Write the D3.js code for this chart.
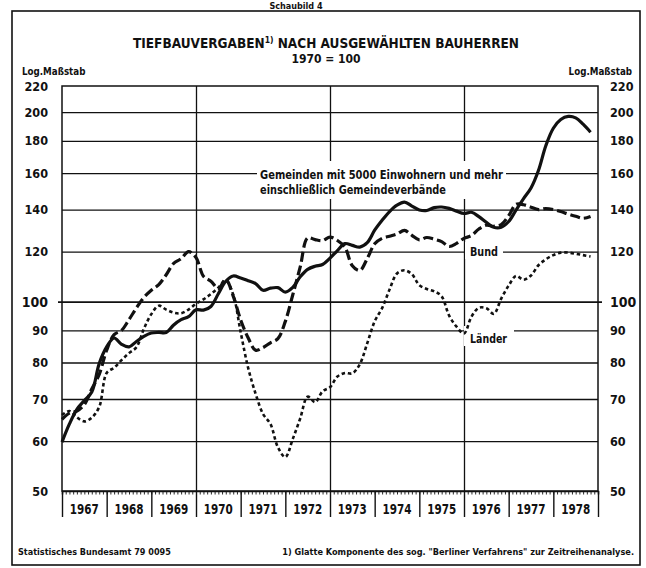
<!DOCTYPE html>
<html><head><meta charset="utf-8">
<script src="https://cdn.jsdelivr.net/npm/d3@7"></script>
<style>
body{margin:0;background:#fff;}
svg text{font-family:"DejaVu Sans Condensed","Liberation Sans Narrow","Arial Narrow",sans-serif;font-stretch:condensed;font-weight:bold;fill:#111;}
</style></head><body>
<svg id="c" width="646" height="568"></svg>
<script>
// ---- data (index values, 1970 = 100), two-month steps from Jan 1967 ----
const startYear = 1967;
const stepYears = 1 / 6;
const years = [1967,1968,1969,1970,1971,1972,1973,1974,1975,1976,1977,1978];
const gemeinden = [59.8,63.9,67.4,69.6,71.8,79.7,84.7,87.5,85.5,84.7,
  86.4,88,89.1,89.3,89.3,91.8,93.6,94.6,97,96.9,
  98.2,102.9,107.7,109.8,109,107.9,106.8,104.2,105,105.2,
  103.5,105.3,109.5,112.5,113.8,114.5,117.2,120.5,123.6,122.8,
  122,124,129.8,134.6,139,142.3,143.9,141.8,139.8,139.5,
  141,141.3,140.6,139.2,138,138.6,136.4,133.6,131.2,131.2,
  134,139.8,145.7,151.5,161.5,177,188.5,194.6,196.8,195.8,
  191.3,185.8];
const bund = [65,66.5,67,68.6,72.6,76.6,83.7,88.6,90,93.6,
  97.7,101.5,104.2,106.4,110.3,115,117,120,117.5,109.7,
  107.7,104.9,108.4,102,93.5,87.6,83.7,84.5,86,87.3,
  93,102.5,113.5,126.2,125.4,125,126.6,125,122,114,
  112,117,123.5,126,127,128,129.7,127.4,125.3,126.4,
  125.6,124.5,122.3,123.7,126,127.3,130.4,132.2,131.7,132.5,
  136.9,142.7,142.5,141.2,140,140.5,140,139,137.7,136.6,
  135.6,136.5];
const laender = [66,67,65.5,64.5,65.4,68,77,78.5,80.7,82.8,
  84.6,90.5,95.5,98.5,97.1,96,95.8,97.1,99.2,100.8,
  102.8,105.2,108,102.5,89.4,78.5,71.4,66.3,63.9,58.7,
  56.6,60.5,65.2,70.6,69.2,72,73.1,76,77,76.9,
  79.5,85.8,93,97.6,104.5,110.8,112.1,110.5,106.2,104.7,
  103.8,101.9,95,91.2,89,94.6,97.7,97.6,95.6,101.1,
  106,109.8,108.3,110,114.2,116.7,118.5,119.6,119.6,119.1,
  118.5,117.9];
const yTickLabels = [220,200,180,160,140,120,100,90,80,70,60,50];
const yGridValues = [200,180,160,140,120,100,90,80,70,60];
const xGridYears = [1970,1973,1976];

// ---- layout ----
const L = 62, R = 598, T = 86, B = 491;
const svg = d3.select("#c");
const x = d3.scaleLinear().domain([1967, 1979]).range([L, R]);
const y = d3.scaleLog().domain([50, 220]).range([B, T]);

// outer frame
svg.append("rect").attr("x",12).attr("y",11).attr("width",628).attr("height",554)
  .attr("fill","none").attr("stroke","#111").attr("stroke-width",1.6);

// small heading at very top (cut in the original print)
svg.append("text").attr("x",296).attr("y",8.5).attr("text-anchor","middle")
  .attr("font-size",9).text("Schaubild 4");

// title
const t1 = svg.append("text").attr("x",326).attr("y",48).attr("text-anchor","middle").attr("font-size",13.5);
t1.append("tspan").text("TIEFBAUVERGABEN");
t1.append("tspan").attr("font-size",8.5).attr("dy",-5).text("1)");
t1.append("tspan").attr("dy",5).text(" NACH AUSGEWÄHLTEN BAUHERREN");
svg.append("text").attr("x",326).attr("y",63).attr("text-anchor","middle").attr("font-size",12).text("1970 = 100");

svg.append("text").attr("x",22).attr("y",75).attr("font-size",9.7).text("Log.Maßstab");
svg.append("text").attr("x",632).attr("y",75).attr("text-anchor","end").attr("font-size",9.7).text("Log.Maßstab");

// horizontal grid
const hg = svg.append("g").attr("transform",`translate(${L},0)`)
  .call(d3.axisLeft(y).tickValues(yGridValues).tickSize(-(R-L)).tickFormat(""));
hg.select(".domain").remove();
hg.selectAll("line").attr("stroke","#111").attr("stroke-width",1.3);
hg.selectAll(".tick").filter(d => d === 100).select("line")
  .attr("x1",-4).attr("x2",R-L+4).attr("stroke-width",1.8);

// vertical grid
const vg = svg.append("g").attr("transform",`translate(0,${B})`)
  .call(d3.axisBottom(x).tickValues(xGridYears).tickSize(-(B-T)).tickFormat(""));
vg.select(".domain").remove();
vg.selectAll("line").attr("stroke","#111").attr("stroke-width",1.3);

// plot frame
svg.append("rect").attr("x",L).attr("y",T).attr("width",R-L).attr("height",B-T)
  .attr("fill","none").attr("stroke","#111").attr("stroke-width",1.5);

// y labels
const yl = svg.append("g").attr("transform",`translate(${L},0)`)
  .call(d3.axisLeft(y).tickValues(yTickLabels).tickSize(0).tickPadding(14).tickFormat(d3.format("d")));
yl.select(".domain").remove();
const yr = svg.append("g").attr("transform",`translate(${R},0)`)
  .call(d3.axisRight(y).tickValues(yTickLabels).tickSize(0).tickPadding(12).tickFormat(d3.format("d")));
yr.select(".domain").remove();
[yl, yr].forEach(g => {
  g.selectAll("text").attr("font-size", d => d === 100 ? 14 : 12.5)
    .attr("font-family",null).attr("fill","#111");
});

// x axis: month ticks, year separators, year labels
const months = d3.range(0, 144).map(m => startYear + m / 12);
const xm = svg.append("g").attr("transform",`translate(0,${B})`)
  .call(d3.axisBottom(x).tickValues(months).tickSize(3.5).tickFormat(""));
xm.select(".domain").attr("stroke","#111").attr("stroke-width",1.5);
xm.selectAll("line").attr("stroke","#111").attr("stroke-width",0.9);
const xs = svg.append("g").attr("transform",`translate(0,${B})`)
  .call(d3.axisBottom(x).tickValues(years.concat([1979])).tickSize(26).tickFormat(""));
xs.select(".domain").remove();
xs.selectAll("line").attr("stroke","#111").attr("stroke-width",1.4);
svg.append("g").selectAll("text").data(years).join("text")
  .attr("x", d => x(d + 0.5)).attr("y", 514).attr("text-anchor","middle")
  .attr("font-size",13.5).attr("textLength",29).attr("lengthAdjust","spacingAndGlyphs").text(d => d);

// label backgrounds (interrupt gridlines)
const bg = svg.append("g").attr("fill","#fff");
bg.append("rect").attr("x",257).attr("y",161).attr("width",249).attr("height",38);
bg.append("rect").attr("x",465).attr("y",242).attr("width",38).attr("height",17);
bg.append("rect").attr("x",464).attr("y",326).attr("width",50).attr("height",20);

// annotations
function label(txt, xx, yy, len) {
  svg.append("text").attr("x",xx).attr("y",yy).attr("font-size",12.5)
    .attr("textLength",len).attr("lengthAdjust","spacingAndGlyphs").text(txt);
}
label("Gemeinden mit 5000 Einwohnern und mehr", 260, 179, 243);
label("einschließlich Gemeindeverbände", 260, 194, 186);
label("Bund", 470, 256, 28);
label("Länder", 470, 343, 37);

// series
const line = d3.line()
  .x((d, i) => x(startYear + i * stepYears))
  .y(d => y(d))
  .curve(d3.curveCatmullRom.alpha(0.5));
svg.append("path").datum(laender).attr("d", line).attr("fill","none")
  .attr("stroke","#111").attr("stroke-width",2.6).attr("stroke-dasharray","3.5,2.8");
svg.append("path").datum(bund).attr("d", line).attr("fill","none")
  .attr("stroke","#111").attr("stroke-width",3.2).attr("stroke-dasharray","10,4");
svg.append("path").datum(gemeinden).attr("d", line).attr("fill","none")
  .attr("stroke","#111").attr("stroke-width",3.2).attr("stroke-linejoin","round");

// footer
svg.append("text").attr("x",18).attr("y",555).attr("font-size",9)
  .text("Statistisches Bundesamt 79 0095");
svg.append("text").attr("x",634).attr("y",555).attr("text-anchor","end").attr("font-size",9.1)
  .text("1) Glatte Komponente des sog. \"Berliner Verfahrens\" zur Zeitreihenanalyse.");
</script>
</body></html>
